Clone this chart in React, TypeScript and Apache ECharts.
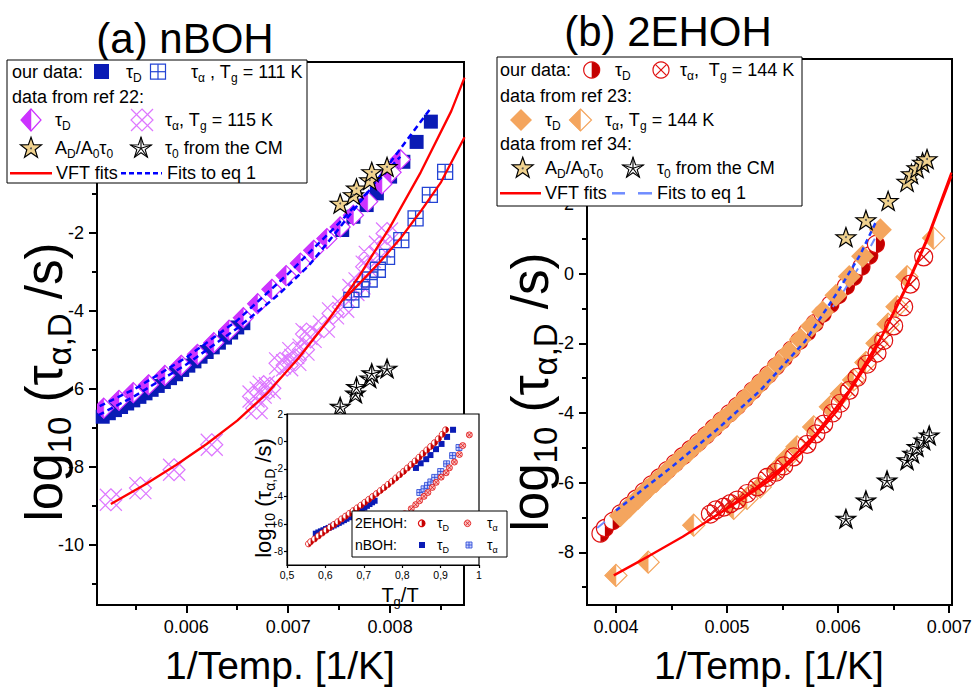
import React, { useEffect, useRef } from 'react';
import * as echarts from 'echarts';

const FF = '"Liberation Sans", Arial, Helvetica, sans-serif';

// ---------------- tick values ----------------
const aXMajor = [0.006, 0.007, 0.008];
const aXMinor = [0.0055, 0.0065, 0.0075, 0.0085];
const aYMajor = [-10, -8, -6, -4, -2, 0, 2];
const aYLabels = [-10, -8, -6, -4, -2];
const aYMinor = [-11, -9, -7, -5, -3, -1, 1];
const bXMajor = [0.004, 0.005, 0.006, 0.007];
const bXMinor = [0.0045, 0.0055, 0.0065];
const bYMajor = [-8, -6, -4, -2, 0, 2, 4, 6];
const bYLabels = [-8, -6, -4, -2, 0, 2];
const bYMinor = [-9, -7, -5, -3, -1, 1, 3, 5];
const inXMajor = [0.5, 0.6, 0.7, 0.8, 0.9, 1];
const inYMajor = [-8, -6, -4, -2, 0, 2];

const TG_NBOH = 111;
const TG_EHOH = 144;

// ---------------- panel (a) nBOH: [1/T, log10 tau] ----------------
const nbohTauD = [
  [0.00518, -6.72], [0.00524, -6.63], [0.0053, -6.55], [0.00536, -6.47], [0.00542, -6.38], [0.00548, -6.3],
  [0.00554, -6.21], [0.0056, -6.12], [0.00566, -6.03], [0.00572, -5.93], [0.00578, -5.83], [0.00584, -5.73],
  [0.0059, -5.63], [0.00596, -5.52], [0.00602, -5.41], [0.00608, -5.3], [0.00614, -5.18], [0.0062, -5.06],
  [0.00626, -4.94], [0.00632, -4.82], [0.00638, -4.69], [0.00644, -4.56], [0.0065, -4.43], [0.00656, -4.32],
  [0.00753, -1.93], [0.00764, -1.59], [0.00777, -1.29], [0.00787, -0.99], [0.008, -0.56], [0.00813, -0.18],
  [0.00826, 0.33], [0.0084, 0.85],
];
const nbohTauA = [
  [0.00762, -3.72], [0.00772, -3.45], [0.0078, -3.2], [0.00788, -2.95], [0.00797, -2.62], [0.00811, -2.19],
  [0.00825, -1.63], [0.00839, -1.03], [0.00854, -0.44],
];
const ref22TauD = [
  [0.00519, -6.5], [0.00534, -6.3], [0.00548, -6.1], [0.00563, -5.9], [0.00579, -5.66], [0.00595, -5.4],
  [0.00611, -5.12], [0.00627, -4.82], [0.00642, -4.5], [0.00656, -4.18], [0.0067, -3.82], [0.00684, -3.45],
  [0.00698, -3.1], [0.00712, -2.78], [0.00725, -2.45], [0.00738, -2.15], [0.00751, -1.85], [0.00764, -1.55],
  [0.00778, -1.2], [0.00792, -0.75], [0.00801, -0.45], [0.0081, -0.12],
];
const ref22TauA = [
  [0.00526, -8.85], [0.00555, -8.55], [0.00588, -8.08], [0.00625, -7.44], [0.00666, -6.2], [0.00669, -6.5],
  [0.00673, -6.1], [0.00676, -5.95], [0.00682, -5.99], [0.00692, -5.35], [0.00699, -5.4], [0.00705, -5.09],
  [0.00707, -5.26], [0.00715, -5.0], [0.00718, -4.6], [0.00722, -4.67], [0.00735, -4.41], [0.00744, -4.07],
  [0.00754, -3.9], [0.00764, -3.47], [0.0077, -3.3], [0.00777, -2.87], [0.0078, -2.62], [0.0079, -2.36],
  [0.00797, -2.02],
];
const starsA = [[0.00751, -1.25], [0.00764, -1.03], [0.00767, -0.86], [0.0078, -0.65], [0.00782, -0.44], [0.00797, -0.31]];
const cmStarsA = [[0.00751, -6.46], [0.00766, -6.12], [0.00767, -5.95], [0.0078, -5.73], [0.00782, -5.6], [0.00797, -5.48]];
const vftA1 = [
  [0.00526, -8.96], [0.0056, -8.45], [0.0059, -7.96], [0.0062, -7.42], [0.0065, -6.82], [0.0068, -6.1],
  [0.0071, -5.22], [0.0074, -4.22], [0.0077, -3.1], [0.008, -1.85], [0.0083, -0.45], [0.0086, 1.12], [0.00873, 1.98],
];
const vftA2 = [
  [0.00754, -3.73], [0.0077, -3.3], [0.0079, -2.75], [0.0081, -2.15], [0.0083, -1.45], [0.0085, -0.7], [0.00873, 0.45],
];
const fitA1 = [
  [0.00514, -6.68], [0.0055, -6.18], [0.006, -5.38], [0.0065, -4.45], [0.0069, -3.6], [0.0072, -2.85],
  [0.00745, -2.05], [0.0078, -0.9], [0.0081, 0.15], [0.0084, 1.2],
];
const fitA2 = [
  [0.00515, -6.45], [0.0055, -6.0], [0.006, -5.2], [0.0065, -4.25], [0.007, -3.05], [0.0075, -1.75], [0.0081, -0.05],
];

// ---------------- panel (b) 2EHOH ----------------
const ehohTauD = [
  [0.00386, -7.46], [0.0039, -7.3], [0.00397, -7.1], [0.00404, -6.88], [0.00411, -6.67], [0.00418, -6.46],
  [0.00425, -6.25], [0.00432, -6.05], [0.00439, -5.85], [0.00446, -5.64], [0.00453, -5.44], [0.0046, -5.24],
  [0.00467, -5.04], [0.00474, -4.84], [0.00481, -4.64], [0.00488, -4.43], [0.00495, -4.22], [0.00502, -4.01],
  [0.00509, -3.8], [0.00516, -3.58], [0.00523, -3.36], [0.0053, -3.13], [0.00537, -2.9], [0.00544, -2.66],
  [0.00551, -2.42], [0.00558, -2.18], [0.00565, -1.93], [0.00572, -1.68], [0.00579, -1.42], [0.00586, -1.15],
  [0.00593, -0.88], [0.006, -0.62], [0.00607, -0.36], [0.00614, -0.09], [0.00621, 0.2], [0.00628, 0.52],
  [0.00634, 0.85],
];
const ehohTauA = [
  [0.00485, -6.9], [0.0049, -6.78], [0.00497, -6.7], [0.00503, -6.6], [0.00509, -6.5], [0.00518, -6.31],
  [0.00527, -6.12], [0.00536, -5.85], [0.00544, -5.7], [0.00551, -5.52], [0.0056, -5.26], [0.00572, -4.9],
  [0.0058, -4.6], [0.00587, -4.32], [0.00595, -4.0], [0.00602, -3.72], [0.0061, -3.35], [0.00617, -2.98],
  [0.00626, -2.6], [0.00635, -2.28], [0.00641, -1.92], [0.0065, -1.5], [0.00659, -0.95], [0.00665, -0.3],
  [0.00677, 0.48],
];
const ref23TauD = [
  [0.00404, -6.95], [0.00412, -6.7], [0.0042, -6.45], [0.00428, -6.2], [0.00436, -5.97], [0.00446, -5.68],
  [0.00456, -5.38], [0.00466, -5.1], [0.00476, -4.8], [0.00486, -4.5], [0.00496, -4.2], [0.00506, -3.92],
  [0.00516, -3.6], [0.00526, -3.27], [0.00536, -2.95], [0.00546, -2.6], [0.00556, -2.25], [0.00566, -1.88],
  [0.00576, -1.5], [0.00586, -1.1], [0.00598, -0.62], [0.0061, -0.08], [0.00622, 0.5], [0.00638, 1.26],
];
const ref23TauA = [
  [0.004, -8.66], [0.00429, -8.28], [0.0047, -7.22], [0.00506, -6.74], [0.00518, -6.45], [0.0053, -6.12],
  [0.00545, -5.62], [0.00554, -5.3], [0.00563, -4.97], [0.00578, -4.4], [0.00593, -3.82], [0.00603, -3.45],
  [0.00614, -3.05], [0.00625, -2.55], [0.00635, -2.0], [0.00645, -1.45], [0.00653, -0.95], [0.00662, -0.09],
  [0.00686, 1.02],
];
const starsB = [
  [0.00607, 1.05], [0.00625, 1.54], [0.00645, 2.09], [0.00662, 2.64], [0.00666, 2.86], [0.00671, 3.03],
  [0.00676, 3.19], [0.0068, 3.29],
];
const cmStarsB = [
  [0.00607, -7.03], [0.00625, -6.5], [0.00644, -5.93], [0.00662, -5.35], [0.00667, -5.16], [0.00671, -4.97],
  [0.00677, -4.78], [0.00682, -4.64],
];
const vftB1 = [
  [0.00398, -8.66], [0.0043, -8.1], [0.0046, -7.55], [0.0049, -6.95], [0.0052, -6.3], [0.0055, -5.55],
  [0.0058, -4.6], [0.0061, -3.35], [0.0064, -1.75], [0.0066, -0.45], [0.0068, 1.0], [0.00702, 2.9],
];
const vftB2 = [
  [0.00482, -7.1], [0.0051, -6.55], [0.0054, -5.9], [0.0057, -5.05], [0.006, -3.9], [0.0063, -2.4],
  [0.0066, -0.5], [0.0068, 0.95], [0.00702, 2.8],
];
const fitB1 = [
  [0.004, -6.8], [0.0045, -5.55], [0.0049, -4.5], [0.0053, -3.35], [0.0057, -1.95], [0.006, -0.5],
  [0.0062, 0.55], [0.00635, 1.55],
];
const fitB2 = [
  [0.00383, -7.3], [0.0042, -6.35], [0.0046, -5.3], [0.005, -4.2], [0.0054, -2.98], [0.0058, -1.6],
  [0.006, -0.75], [0.0062, 0.25], [0.00633, 1.0],
];

// ---------------- colours ----------------
const BLUE_D = '#0a1bb5';
const BLUE_A = '#2444d4';
const MAG = '#cc33ff';
const MAG_X = '#dd77ff';
const TAN = '#f0d28f';
const RED = '#ff0000';
const RED2 = '#e01010';
const DRED = '#c40000';
const ORANGE = '#f4a55e';
const DBLUE = '#0000ff';
const LBLUE = '#6f8cff';
const CLEAR = 'rgba(255,255,255,0)';

// ---------------- symbol paths ----------------
const P_SQP = 'path://M0 0H20V20H0Z M10 0V20 M0 10H20';
const P_DX = 'path://M10 0L20 10L10 20L0 10Z M0 0L20 20 M20 0L0 20';
const P_OX = 'path://M0 10A10 10 0 1 1 20 10A10 10 0 1 1 0 10Z M2.93 2.93L17.07 17.07 M17.07 2.93L2.93 17.07';
const P_STAR = 'path://M10 0L12.35 6.76L19.51 6.91L13.8 11.24L15.88 18.09L10 14L4.12 18.09L6.2 11.24L0.49 6.91L7.65 6.76Z';
const P_STAR_CM = P_STAR + ' M10 10L10 0 M10 10L19.51 6.91 M10 10L15.88 18.09 M10 10L4.12 18.09 M10 10L0.49 6.91';

// ---------------- helpers ----------------
function sc(data: number[][], ai: number, symbol: string, size: any, color: string, border: string, bw: number, z: number, extra: any = {}) {
  return {
    type: 'scatter', data, xAxisIndex: ai, yAxisIndex: ai, symbol, symbolSize: size, z, silent: true,
    itemStyle: { color, borderColor: border, borderWidth: bw, opacity: 1 }, ...extra,
  };
}
function ln(data: number[][], ai: number, color: string, width: number, type: any, z: number) {
  return {
    type: 'line', data, xAxisIndex: ai, yAxisIndex: ai, symbol: 'none', showSymbol: false, smooth: false,
    z, silent: true, lineStyle: { color, width, type },
  };
}
function halfDiamondSeries(data: number[][], ai: number, hw: number, hh: number, color: string, z: number) {
  return {
    type: 'custom', coordinateSystem: 'cartesian2d', xAxisIndex: ai, yAxisIndex: ai, data, z, silent: true, clip: true,
    renderItem: (_p: any, api: any) => {
      const c = api.coord([api.value(0), api.value(1)]);
      const cx = c[0], cy = c[1];
      return {
        type: 'group', children: [
          { type: 'polygon', shape: { points: [[cx, cy - hh], [cx + hw, cy], [cx, cy + hh], [cx - hw, cy]] }, style: { fill: '#fff', stroke: color, lineWidth: 1.2 } },
          { type: 'polygon', shape: { points: [[cx, cy - hh], [cx - hw, cy], [cx, cy + hh]] }, style: { fill: color, stroke: color, lineWidth: 0.5 } },
        ],
      };
    },
  };
}
function halfCircleSeries(data: number[][], ai: number, r: number, z: number, lw = 1.2) {
  return {
    type: 'custom', coordinateSystem: 'cartesian2d', xAxisIndex: ai, yAxisIndex: ai, data, z, silent: true, clip: true,
    renderItem: (_p: any, api: any) => {
      const c = api.coord([api.value(0), api.value(1)]);
      const cx = c[0], cy = c[1];
      return {
        type: 'group', children: [
          { type: 'circle', shape: { cx, cy, r }, style: { fill: '#fff', stroke: RED2, lineWidth: lw } },
          { type: 'sector', shape: { cx, cy, r0: 0, r, startAngle: -Math.PI / 2, endAngle: Math.PI / 2, clockwise: true }, style: { fill: DRED } },
        ],
      };
    },
  };
}
const scaled = (arr: number[][], k: number) => arr.map((p) => [p[0] * k, p[1]]);

function axis(gridIndex: number, pos: string, min: number, max: number, ticks: number[], o: any) {
  return {
    type: 'value', gridIndex, position: pos, min, max, z: o.z ?? 0,
    axisLine: { show: true, onZero: false, lineStyle: { color: '#000', width: o.lw } },
    axisTick: { show: true, inside: false, length: o.tl, customValues: ticks, lineStyle: { color: '#000', width: o.lw } },
    axisLabel: o.labels
      ? { show: true, customValues: o.labelValues ?? ticks, formatter: o.fmt, fontSize: o.fs, fontFamily: FF, color: '#000', margin: o.margin }
      : { show: false },
    splitLine: { show: false },
    minorTick: { show: false },
    minorSplitLine: { show: false },
  };
}
const fmt3 = (v: number) => v.toFixed(3);
const fmtInt = (v: number) => String(Math.round(v));
const fmtComma = (v: number) => (Math.abs(v - 1) < 1e-9 ? '1' : v.toFixed(1).replace('.', ','));

// ---------------- graphic helpers ----------------
function rich(fs: number, sfs: number, lh: number) {
  return {
    m: { fontSize: fs, fontFamily: FF, fill: '#000', lineHeight: lh, verticalAlign: 'middle' },
    s: { fontSize: sfs, fontFamily: FF, fill: '#000', lineHeight: sfs, verticalAlign: 'bottom' },
  };
}
function T(x: number, y: number, text: string, fs = 18, o: any = {}) {
  const sfs = o.sfs ?? Math.round(fs * 0.66);
  const lh = o.lh ?? Math.round(fs * 1.34);
  return {
    type: 'text', x, y, rotation: o.rot ?? 0, z: o.z ?? 101, silent: true,
    style: { text, align: o.align ?? 'left', verticalAlign: 'middle', fill: '#000', font: `${fs}px ${FF}`, rich: rich(fs, sfs, lh) },
  };
}
const G = (o: any, z = 101) => ({ z, silent: true, ...o });
const gLine = (x1: number, y1: number, x2: number, y2: number, stroke: string, lw: number, dash?: number[], z = 101) =>
  G({ type: 'line', shape: { x1, y1, x2, y2 }, style: { stroke, lineWidth: lw, lineDash: dash } }, z);
const gRect = (x: number, y: number, w: number, h: number, fill: string, stroke: string | null, lw: number, z = 101) =>
  G({ type: 'rect', shape: { x, y, width: w, height: h }, style: { fill, stroke: stroke ?? undefined, lineWidth: lw } }, z);
const gPoly = (points: number[][], fill: string, stroke: string | null, lw: number, z = 101) =>
  G({ type: 'polygon', shape: { points }, style: { fill, stroke: stroke ?? undefined, lineWidth: lw } }, z);

function starPts(cx: number, cy: number, R: number) {
  const pts: number[][] = [];
  for (let i = 0; i < 10; i++) {
    const a = -Math.PI / 2 + (i * Math.PI) / 5;
    const rad = i % 2 === 0 ? R : R * 0.4;
    pts.push([cx + rad * Math.cos(a), cy + rad * Math.sin(a)]);
  }
  return pts;
}
function lgSqPlus(cx: number, cy: number, s: number, color: string, fill = '#fff', z = 101, lw = 1.2) {
  const h = s / 2;
  return [
    gRect(cx - h, cy - h, s, s, fill, color, lw, z),
    gLine(cx, cy - h, cx, cy + h, color, lw, undefined, z),
    gLine(cx - h, cy, cx + h, cy, color, lw, undefined, z),
  ];
}
function lgHalfDiamond(cx: number, cy: number, hw: number, hh: number, color: string) {
  return [
    gPoly([[cx, cy - hh], [cx + hw, cy], [cx, cy + hh], [cx - hw, cy]], '#fff', color, 1.2),
    gPoly([[cx, cy - hh], [cx - hw, cy], [cx, cy + hh]], color, color, 0.5),
  ];
}
function lgCrossDiamond(cx: number, cy: number, h: number, color: string) {
  return [
    gPoly([[cx, cy - h], [cx + h, cy], [cx, cy + h], [cx - h, cy]], CLEAR, color, 1.2),
    gLine(cx - h, cy - h, cx + h, cy + h, color, 1.2),
    gLine(cx + h, cy - h, cx - h, cy + h, color, 1.2),
  ];
}
function lgStar(cx: number, cy: number, R: number) {
  return [
    gPoly(starPts(cx, cy, R), TAN, '#000', 1.2),
    G({ type: 'circle', shape: { cx, cy, r: 1 }, style: { fill: '#555' } }),
  ];
}
function lgCmStar(cx: number, cy: number, R: number) {
  const pts = starPts(cx, cy, R);
  const out: any[] = [gPoly(pts, '#fff', '#000', 1.1)];
  for (let i = 0; i < 10; i += 2) out.push(gLine(cx, cy, pts[i][0], pts[i][1], '#000', 1.1));
  return out;
}
function lgHalfCircle(cx: number, cy: number, r: number, z = 101) {
  return [
    G({ type: 'circle', shape: { cx, cy, r }, style: { fill: '#fff', stroke: RED2, lineWidth: 1.2 } }, z),
    G({ type: 'sector', shape: { cx, cy, r0: 0, r, startAngle: -Math.PI / 2, endAngle: Math.PI / 2, clockwise: true }, style: { fill: DRED } }, z),
  ];
}
function lgCircleX(cx: number, cy: number, r: number, fill = '#fff', z = 101, lw = 1.2) {
  const d = r * 0.7071;
  return [
    G({ type: 'circle', shape: { cx, cy, r }, style: { fill, stroke: RED2, lineWidth: lw } }, z),
    gLine(cx - d, cy - d, cx + d, cy + d, RED2, lw, undefined, z),
    gLine(cx + d, cy - d, cx - d, cy + d, RED2, lw, undefined, z),
  ];
}

// ---------------- option ----------------
function buildOption() {
  const grid = [
    { left: 97, top: 62, width: 367, height: 543, show: true, borderColor: '#000', borderWidth: 2, backgroundColor: 'rgba(0,0,0,0)', z: 0, outerBoundsMode: 'none' },
    { left: 587, top: 59, width: 365, height: 546, show: true, borderColor: '#000', borderWidth: 2, backgroundColor: 'rgba(0,0,0,0)', z: 0, outerBoundsMode: 'none' },
    { left: 287, top: 414, width: 192, height: 151, show: true, borderColor: '#000', borderWidth: 1.2, backgroundColor: '#fff', z: 10, outerBoundsMode: 'none' },
  ];
  const big = { lw: 2, tl: 8, labels: true, fs: 18 };
  const xAxis = [
    axis(0, 'bottom', 0.005124, 0.008725, aXMajor, { ...big, fmt: fmt3, margin: 13 }),
    axis(0, 'bottom', 0.005124, 0.008725, aXMinor, { lw: 2, tl: 5 }),
    axis(1, 'bottom', 0.003739, 0.007025, bXMajor, { ...big, fmt: fmt3, margin: 13 }),
    axis(1, 'bottom', 0.003739, 0.007025, bXMinor, { lw: 2, tl: 5 }),
    axis(2, 'bottom', 0.5, 1.0, inXMajor, { lw: 1.2, tl: 3, labels: true, fs: 10.5, fmt: fmtComma, margin: 4, z: 11 }),
  ];
  const yAxis = [
    axis(0, 'left', -11.55, 2.38, aYMajor, { ...big, fmt: fmtInt, margin: 13, labelValues: aYLabels }),
    axis(0, 'left', -11.55, 2.38, aYMinor, { lw: 2, tl: 5 }),
    axis(1, 'left', -9.51, 6.16, bYMajor, { ...big, fmt: fmtInt, margin: 13, labelValues: bYLabels }),
    axis(1, 'left', -9.51, 6.16, bYMinor, { lw: 2, tl: 5 }),
    axis(2, 'left', -9, 2, inYMajor, { lw: 1.2, tl: 3, labels: true, fs: 10, fmt: fmtInt, margin: 4, z: 11 }),
  ];
  const A = 0, B = 2, IN = 4;
  const series: any[] = [
    // ----- panel (a)
    sc(ref22TauA, A, P_DX, 22, CLEAR, MAG_X, 1.2, 3),
    sc(nbohTauA, A, P_SQP, 15, CLEAR, BLUE_A, 1.3, 3),
    sc(nbohTauD, A, 'rect', 14, BLUE_D, BLUE_D, 0, 3),
    halfDiamondSeries(ref22TauD, A, 10, 10, MAG, 4),
    ln(fitA2, A, DBLUE, 2.5, [6, 4], 5),
    ln(fitA1, A, DBLUE, 2.5, [6, 4], 5),
    ln(vftA1, A, RED, 2.3, 'solid', 5),
    ln(vftA2, A, RED, 2.3, 'solid', 5),
    sc(cmStarsA, A, P_STAR_CM, [20, 19], '#fff', '#000', 1.1, 6),
    sc(starsA, A, P_STAR, [20, 19], TAN, '#000', 1.2, 6),
    sc(starsA, A, 'circle', 2, '#555', '#555', 0, 7),
    // ----- panel (b)
    halfCircleSeries(ehohTauD, B, 8.5, 3),
    ln(fitB2, B, LBLUE, 2, [10, 8], 3),
    sc(ref23TauD, B, 'diamond', 23, ORANGE, ORANGE, 0, 4),
    ln(fitB1, B, '#1a3cff', 2.5, [5, 4], 5),
    halfDiamondSeries(ref23TauA, B, 11, 11, ORANGE, 5),
    sc(ehohTauA, B, P_OX, 18, CLEAR, RED2, 1.2, 6),
    ln(vftB1, B, RED, 2.3, 'solid', 7),
    ln(vftB2, B, RED, 2.3, 'solid', 7),
    sc(cmStarsB, B, P_STAR_CM, [20, 19], '#fff', '#000', 1.1, 8),
    sc(starsB, B, P_STAR, [20, 19], TAN, '#000', 1.2, 8),
    sc(starsB, B, 'circle', 2, '#555', '#555', 0, 9),
    // ----- inset (Tg/T scaled)
    sc(scaled(nbohTauA, TG_NBOH), IN, P_SQP, 6, '#c8d0ff', BLUE_A, 0.8, 12),
    sc(scaled(nbohTauD, TG_NBOH), IN, 'rect', 6, BLUE_D, BLUE_D, 0, 12),
    sc(scaled(ehohTauA, TG_EHOH), IN, P_OX, 6, '#f8c0c0', RED2, 0.8, 13),
    halfCircleSeries(scaled(ehohTauD, TG_EHOH), IN, 3, 13, 0.8),
  ];
  series.forEach((s) => { s.animation = false; });

  const YT = '{m|log}{s|10}{m| (τ}{s|α,D}{m| /s)}';
  const gfx: any[] = [
    // titles
    T(185, 38, '{m|(a) nBOH}', 42, { align: 'center', z: 90 }),
    T(668, 31, '{m|(b) 2EHOH}', 42, { align: 'center', z: 90 }),
    T(280, 665, '{m|1/Temp. [1/K]}', 39, { align: 'center', z: 90 }),
    T(769, 665, '{m|1/Temp. [1/K]}', 39, { align: 'center', z: 90 }),
    T(44, 382, YT, 51, { align: 'center', rot: Math.PI / 2, sfs: 33, lh: 64, z: 90 }),
    T(530, 392, YT, 51, { align: 'center', rot: Math.PI / 2, sfs: 33, lh: 64, z: 90 }),
    // inset titles
    T(263, 498, YT, 22, { align: 'center', rot: Math.PI / 2, sfs: 14, lh: 28, z: 20 }),
    T(400, 595, '{m|T}{s|g}{m|/T}', 20, { align: 'center', sfs: 13, lh: 26, z: 20 }),
    // inset legend
    gRect(352, 511, 155, 46, '#fff', '#000', 1, 20),
    T(355, 523.3, '{m|2EHOH:}', 14, { z: 21 }),
    ...lgHalfCircle(421.7, 523.3, 3.3, 21),
    T(437, 523.3, '{m|τ}{s|D}', 14, { z: 21 }),
    ...lgCircleX(467.5, 523.3, 3.3, '#f8c0c0', 21, 0.8),
    T(487, 523.3, '{m|τ}{s|α}', 14, { z: 21 }),
    T(355, 545, '{m|nBOH:}', 14, { z: 21 }),
    gRect(419, 542, 6, 6, BLUE_D, null, 0, 21),
    T(437, 545, '{m|τ}{s|D}', 14, { z: 21 }),
    ...lgSqPlus(469, 545, 6, BLUE_A, '#c8d0ff', 21, 0.8),
    T(487, 545, '{m|τ}{s|α}', 14, { z: 21 }),
    // legend (a)
    gRect(7, 60, 300, 123, '#fff', '#000', 1, 100),
    T(12, 71.7, '{m|our data:}'),
    gRect(94, 64, 15, 15, BLUE_D, null, 0),
    T(126, 71.7, '{m|τ}{s|D}'),
    ...lgSqPlus(158, 71.7, 15, BLUE_A),
    T(191, 71.7, '{m|τ}{s|α}{m| , T}{s|g}{m| = 111 K}'),
    T(12, 96.7, '{m|data from ref 22:}'),
    ...lgHalfDiamond(31, 120, 10, 11, MAG),
    T(55, 120, '{m|τ}{s|D}'),
    ...lgCrossDiamond(142, 120, 11, MAG_X),
    T(165, 120, '{m|τ}{s|α}{m|, T}{s|g}{m| = 115 K}'),
    ...lgStar(31, 148.3, 11),
    T(55, 148.3, '{m|A}{s|D}{m|/A}{s|0}{m|τ}{s|0}'),
    ...lgCmStar(141, 148.3, 11),
    T(165, 148.3, '{m|τ}{s|0}{m| from the CM}'),
    gLine(10, 173.3, 52, 173.3, RED, 2.5),
    T(56, 173.3, '{m|VFT fits}'),
    gLine(121, 173.3, 162, 173.3, DBLUE, 2.5, [5, 3]),
    T(167, 173.3, '{m|Fits to eq 1}'),
    // legend (b)
    gRect(497, 57, 305, 149, '#fff', '#000', 1, 100),
    T(500, 70, '{m|our data:}'),
    ...lgHalfCircle(591.7, 70, 8),
    T(615, 70, '{m|τ}{s|D}'),
    ...lgCircleX(661, 70, 8),
    T(680, 70, '{m|τ}{s|α}{m|,  T}{s|g}{m| = 144 K}'),
    T(500, 95.7, '{m|data from ref 23:}'),
    gPoly([[521, 109], [532, 120], [521, 131], [510, 120]], ORANGE, null, 0),
    T(545, 120, '{m|τ}{s|D}'),
    ...lgHalfDiamond(580.5, 120, 11, 11, ORANGE),
    T(605, 120, '{m|τ}{s|α}{m|, T}{s|g}{m| = 144 K}'),
    T(500, 144.3, '{m|data from ref 34:}'),
    ...lgStar(522.7, 168.3, 11),
    T(545, 168.3, '{m|A}{s|D}{m|/A}{s|0}{m|τ}{s|0}'),
    ...lgCmStar(633, 168.3, 11),
    T(657, 168.3, '{m|τ}{s|0}{m| from the CM}'),
    gLine(500, 193.3, 541, 193.3, RED, 2.5),
    T(545, 192.5, '{m|VFT fits}', 18, { lh: 22 }),
    gLine(612, 193.3, 625, 193.3, LBLUE, 2.5),
    gLine(638, 193.3, 652, 193.3, LBLUE, 2.5),
    T(657, 192.5, '{m|Fits to eq 1}', 18, { lh: 22 }),
  ];

  return {
    animation: false,
    backgroundColor: '#fff',
    grid,
    xAxis,
    yAxis,
    series,
    graphic: { elements: gfx },
  };
}

export default function App() {
  const ref = useRef<HTMLDivElement>(null);
  useEffect(() => {
    document.body.style.margin = '0';
    const chart = echarts.init(ref.current as HTMLDivElement, null, { renderer: 'svg' });
    chart.setOption(buildOption() as any);
    return () => chart.dispose();
  }, []);
  return <div ref={ref} style={{ position: 'absolute', left: 0, top: 0, width: 973, height: 687 }} />;
}
